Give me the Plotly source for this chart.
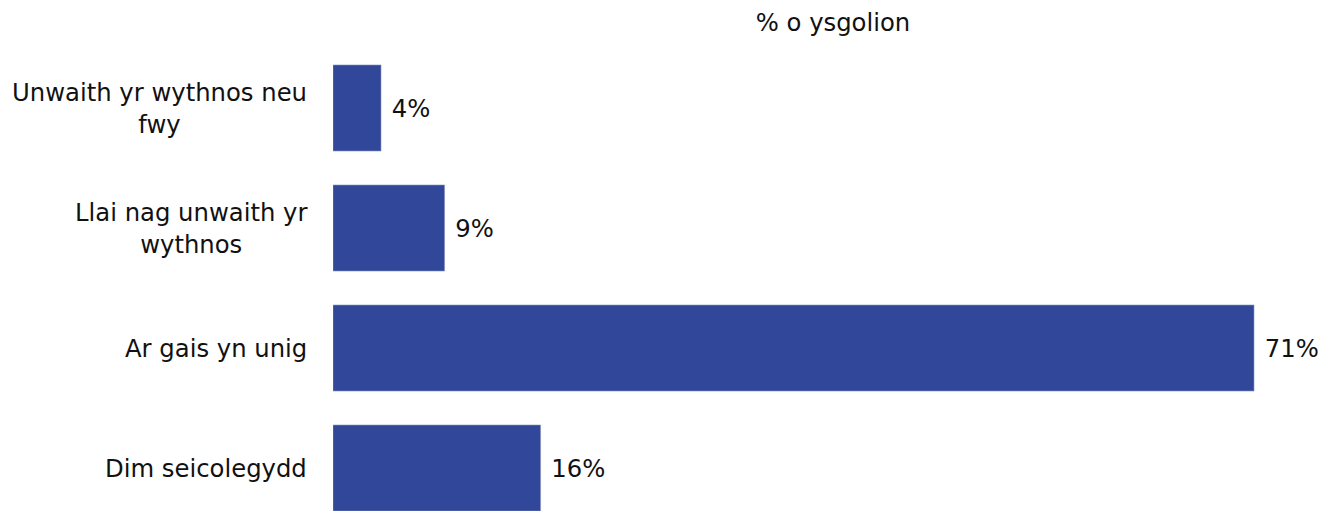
import plotly.graph_objects as go

categories = ["Unwaith yr wythnos neu<br>fwy", "Llai nag unwaith yr<br>wythnos", "Ar gais yn unig", "Dim seicolegydd"]
values = [3.7, 8.6, 71.0, 16.0]
labels = ["4%", "9%", "71%", "16%"]

FONT = "DejaVu Sans, Liberation Sans, Arial, sans-serif"
FS = 24.3

fig = go.Figure(go.Bar(
    x=values,
    y=categories,
    orientation="h",
    marker=dict(color="#30479A", line=dict(color="#8a93c0", width=0.6)),
    text=["\u00a0" + t for t in labels],
    textposition="outside",
    cliponaxis=False,
    textfont=dict(size=FS, color="#111111"),
    hoverinfo="skip",
))

# category labels as centre-aligned annotations (tick labels are right-aligned per line)
for cat in categories:
    fig.add_annotation(
        x=0, xref="paper", xanchor="right", xshift=-24,
        y=cat, yref="y", yanchor="middle",
        text=cat, align="center", showarrow=False,
        font=dict(size=FS, color="#111111", family=FONT),
    )

# page body has an 8px margin: figure is sized/offset to compensate
fig.update_layout(
    width=1330, height=503,
    margin=dict(l=325, r=5, t=40, b=0),
    paper_bgcolor="white", plot_bgcolor="white",
    font=dict(family=FONT, size=FS, color="#111111"),
    bargap=0.283,
    showlegend=False,
    title=dict(text="% o ysgolion", x=0.5, xref="paper", y=1 - 14 / 503, yanchor="middle",
               font=dict(size=FS, color="#111111")),
    xaxis=dict(range=[0, 77.09], visible=False, fixedrange=True),
    yaxis=dict(type="category", range=[3.358, -0.5], showline=False, showgrid=False,
               showticklabels=False, ticks="", automargin=False, fixedrange=True),
)

fig.write_html("out.html", config={"displayModeBar": False})
